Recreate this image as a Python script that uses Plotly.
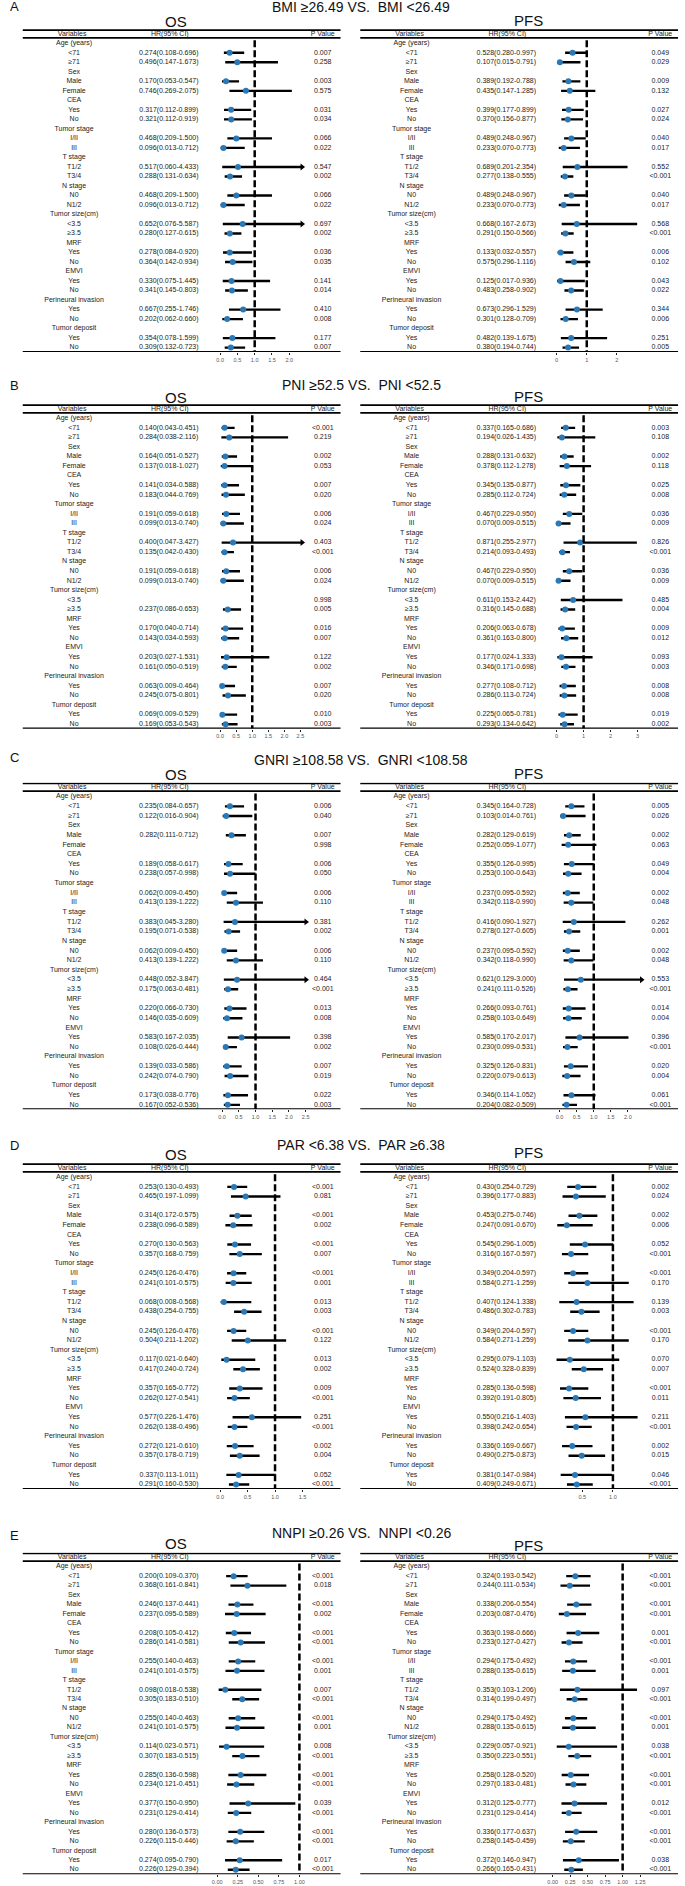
import plotly.graph_objects as go

W, H = 685, 1886
FONT = "Liberation Sans, Arial, sans-serif"
BLUE = "#2a78b5"

# ---- row labels -------------------------------------------------------------
CATEGORIES = ["Age (years)", "Sex", "CEA", "Tumor stage", "T stage", "N stage",
              "Tumor size(cm)", "MRF", "EMVI", "Perineural invasion", "Tumor deposit"]
SUBGROUPS = [["<71", "≥71"], ["Male", "Female"], ["Yes", "No"], ["I/II", "III"],
             ["T1/2", "T3/4"], ["N0", "N1/2"], ["<3.5", "≥3.5"], ["Yes", "No"],
             ["Yes", "No"], ["Yes", "No"], ["Yes", "No"]]

# ---- A: BMI -----------------------------------------------------------------
A_TITLE = "BMI ≥26.49 VS.\u00a0 BMI <26.49"
A_OS_HR = [0.274, 0.496, 0.170, 0.746, 0.317, 0.321, 0.468, 0.096, 0.517, 0.288, 0.468,
           0.096, 0.652, 0.280, 0.278, 0.364, 0.330, 0.341, 0.667, 0.202, 0.354, 0.309]
A_OS_LO = [0.108, 0.147, 0.053, 0.269, 0.112, 0.112, 0.209, 0.013, 0.060, 0.131, 0.209,
           0.013, 0.076, 0.127, 0.084, 0.142, 0.075, 0.145, 0.255, 0.062, 0.078, 0.132]
A_OS_HI = [0.696, 1.673, 0.547, 2.075, 0.899, 0.919, 1.500, 0.712, 4.433, 0.634, 1.500,
           0.712, 5.587, 0.615, 0.920, 0.934, 1.445, 0.803, 1.746, 0.660, 1.599, 0.723]
A_OS_P = ["0.007", "0.258", "0.003", "0.575", "0.031", "0.034", "0.066", "0.022", "0.547", "0.002", "0.066",
          "0.022", "0.697", "0.002", "0.036", "0.035", "0.141", "0.014", "0.410", "0.008", "0.177", "0.007"]
A_PFS_HR = [0.528, 0.107, 0.389, 0.435, 0.399, 0.370, 0.489, 0.233, 0.689, 0.277, 0.489,
            0.233, 0.668, 0.291, 0.133, 0.575, 0.125, 0.483, 0.673, 0.301, 0.482, 0.380]
A_PFS_LO = [0.280, 0.015, 0.192, 0.147, 0.177, 0.156, 0.248, 0.070, 0.201, 0.138, 0.248,
            0.070, 0.167, 0.150, 0.032, 0.296, 0.017, 0.258, 0.296, 0.128, 0.139, 0.194]
A_PFS_HI = [0.997, 0.791, 0.788, 1.285, 0.899, 0.877, 0.967, 0.773, 2.354, 0.555, 0.967,
            0.773, 2.673, 0.566, 0.557, 1.116, 0.936, 0.902, 1.529, 0.709, 1.675, 0.744]
A_PFS_P = ["0.049", "0.029", "0.009", "0.132", "0.027", "0.024", "0.040", "0.017", "0.552", "<0.001", "0.040",
           "0.017", "0.568", "<0.001", "0.006", "0.102", "0.043", "0.022", "0.344", "0.006", "0.251", "0.005"]

# ---- B: PNI -----------------------------------------------------------------
B_TITLE = "PNI ≥52.5 VS.\u00a0 PNI <52.5"
B_OS_HR = [0.140, 0.284, 0.164, 0.137, 0.141, 0.183, 0.191, 0.099, 0.400, 0.135, 0.191,
           0.099, None, 0.237, 0.170, 0.143, 0.203, 0.161, 0.063, 0.245, 0.069, 0.169]
B_OS_LO = [0.043, 0.038, 0.051, 0.018, 0.034, 0.044, 0.059, 0.013, 0.047, 0.042, 0.059,
           0.013, None, 0.086, 0.040, 0.034, 0.027, 0.050, 0.009, 0.075, 0.009, 0.053]
B_OS_HI = [0.451, 2.116, 0.527, 1.027, 0.588, 0.769, 0.618, 0.740, 3.427, 0.430, 0.618,
           0.740, None, 0.653, 0.714, 0.593, 1.531, 0.519, 0.464, 0.801, 0.529, 0.543]
B_OS_P = ["<0.001", "0.219", "0.002", "0.053", "0.007", "0.020", "0.006", "0.024", "0.403", "<0.001", "0.006",
          "0.024", "0.998", "0.005", "0.016", "0.007", "0.122", "0.002", "0.007", "0.020", "0.010", "0.003"]
B_PFS_HR = [0.337, 0.194, 0.288, 0.378, 0.345, 0.285, 0.467, 0.070, 0.871, 0.214, 0.467,
            0.070, 0.611, 0.316, 0.206, 0.361, 0.177, 0.346, 0.277, 0.286, 0.225, 0.293]
B_PFS_LO = [0.165, 0.026, 0.131, 0.112, 0.135, 0.112, 0.229, 0.009, 0.255, 0.093, 0.229,
            0.009, 0.153, 0.145, 0.063, 0.163, 0.024, 0.171, 0.108, 0.113, 0.065, 0.134]
B_PFS_HI = [0.686, 1.435, 0.632, 1.278, 0.877, 0.724, 0.950, 0.515, 2.977, 0.493, 0.950,
            0.515, 2.442, 0.688, 0.678, 0.800, 1.333, 0.698, 0.712, 0.724, 0.781, 0.642]
B_PFS_P = ["0.003", "0.108", "0.002", "0.118", "0.025", "0.008", "0.036", "0.009", "0.826", "<0.001", "0.036",
           "0.009", "0.485", "0.004", "0.009", "0.012", "0.093", "0.003", "0.008", "0.008", "0.019", "0.002"]

# ---- C: GNRI ----------------------------------------------------------------
C_TITLE = "GNRI ≥108.58 VS.\u00a0 GNRI <108.58"
C_OS_HR = [0.235, 0.122, 0.282, None, 0.189, 0.238, 0.062, 0.413, 0.383, 0.195, 0.062,
           0.413, 0.448, 0.175, 0.220, 0.146, 0.583, 0.108, 0.139, 0.242, 0.173, 0.167]
C_OS_LO = [0.084, 0.016, 0.111, None, 0.058, 0.057, 0.009, 0.139, 0.045, 0.071, 0.009,
           0.139, 0.052, 0.063, 0.066, 0.035, 0.167, 0.026, 0.033, 0.074, 0.038, 0.052]
C_OS_HI = [0.657, 0.904, 0.712, None, 0.617, 0.998, 0.450, 1.222, 3.280, 0.538, 0.450,
           1.222, 3.847, 0.481, 0.730, 0.609, 2.035, 0.444, 0.586, 0.790, 0.776, 0.536]
C_OS_P = ["0.006", "0.040", "0.007", "0.998", "0.006", "0.050", "0.006", "0.110", "0.381", "0.002", "0.006",
          "0.110", "0.464", "<0.001", "0.013", "0.008", "0.398", "0.002", "0.007", "0.019", "0.022", "0.003"]
C_PFS_HR = [0.345, 0.103, 0.282, 0.252, 0.355, 0.253, 0.237, 0.342, 0.416, 0.278, 0.237,
            0.342, 0.621, 0.241, 0.266, 0.258, 0.585, 0.230, 0.325, 0.220, 0.346, 0.204]
C_PFS_LO = [0.164, 0.014, 0.129, 0.059, 0.126, 0.100, 0.095, 0.118, 0.090, 0.127, 0.095,
            0.118, 0.129, 0.111, 0.093, 0.103, 0.170, 0.099, 0.126, 0.079, 0.114, 0.082]
C_PFS_HI = [0.728, 0.761, 0.619, 1.077, 0.995, 0.643, 0.592, 0.990, 1.927, 0.605, 0.592,
            0.990, 3.000, 0.526, 0.761, 0.649, 2.017, 0.531, 0.831, 0.613, 1.052, 0.509]
C_PFS_P = ["0.005", "0.026", "0.002", "0.063", "0.049", "0.004", "0.002", "0.048", "0.262", "0.001", "0.002",
           "0.048", "0.553", "<0.001", "0.014", "0.004", "0.396", "<0.001", "0.020", "0.004", "0.061", "<0.001"]

# ---- D: PAR -----------------------------------------------------------------
D_TITLE = "PAR <6.38 VS.\u00a0 PAR ≥6.38"
D_OS_HR = [0.253, 0.465, 0.314, 0.238, 0.270, 0.357, 0.245, 0.241, 0.068, 0.438, 0.245,
           0.504, 0.117, 0.417, 0.357, 0.262, 0.577, 0.262, 0.272, 0.357, 0.337, 0.291]
D_OS_LO = [0.130, 0.197, 0.172, 0.096, 0.130, 0.168, 0.126, 0.101, 0.008, 0.254, 0.126,
           0.211, 0.021, 0.240, 0.165, 0.127, 0.226, 0.138, 0.121, 0.178, 0.113, 0.160]
D_OS_HI = [0.493, 1.099, 0.575, 0.589, 0.563, 0.759, 0.476, 0.575, 0.568, 0.755, 0.476,
           1.202, 0.640, 0.724, 0.772, 0.541, 1.476, 0.496, 0.610, 0.719, 1.011, 0.530]
D_OS_P = ["<0.001", "0.081", "<0.001", "0.002", "<0.001", "0.007", "<0.001", "0.001", "0.013", "0.003", "<0.001",
          "0.122", "0.013", "0.002", "0.009", "<0.001", "0.251", "<0.001", "0.002", "0.004", "0.052", "<0.001"]
D_PFS_HR = [0.430, 0.396, 0.453, 0.247, 0.545, 0.316, 0.349, 0.584, 0.407, 0.486, 0.349,
            0.584, 0.295, 0.524, 0.285, 0.392, 0.550, 0.398, 0.336, 0.490, 0.381, 0.409]
D_PFS_LO = [0.254, 0.177, 0.275, 0.091, 0.296, 0.167, 0.204, 0.271, 0.124, 0.302, 0.204,
            0.271, 0.079, 0.328, 0.136, 0.191, 0.216, 0.242, 0.169, 0.275, 0.147, 0.249]
D_PFS_HI = [0.729, 0.883, 0.746, 0.670, 1.005, 0.597, 0.597, 1.259, 1.338, 0.783, 0.597,
            1.259, 1.103, 0.839, 0.598, 0.805, 1.403, 0.654, 0.667, 0.873, 0.984, 0.671]
D_PFS_P = ["0.002", "0.024", "0.002", "0.006", "0.052", "<0.001", "<0.001", "0.170", "0.139", "0.003", "<0.001",
           "0.170", "0.070", "0.007", "<0.001", "0.011", "0.211", "<0.001", "0.002", "0.015", "0.046", "<0.001"]

# ---- E: NNPI ----------------------------------------------------------------
E_TITLE = "NNPI ≥0.26 VS.\u00a0 NNPI <0.26"
E_OS_HR = [0.200, 0.368, 0.246, 0.237, 0.208, 0.286, 0.255, 0.241, 0.098, 0.305, 0.255,
           0.241, 0.114, 0.307, 0.285, 0.234, 0.377, 0.231, 0.280, 0.226, 0.274, 0.226]
E_OS_LO = [0.109, 0.161, 0.137, 0.095, 0.105, 0.141, 0.140, 0.101, 0.018, 0.183, 0.140,
           0.101, 0.023, 0.183, 0.136, 0.121, 0.150, 0.129, 0.136, 0.115, 0.095, 0.129]
E_OS_HI = [0.370, 0.841, 0.441, 0.589, 0.412, 0.581, 0.463, 0.575, 0.538, 0.510, 0.463,
           0.575, 0.571, 0.515, 0.598, 0.451, 0.950, 0.414, 0.573, 0.446, 0.790, 0.394]
E_OS_P = ["<0.001", "0.018", "<0.001", "0.002", "<0.001", "<0.001", "<0.001", "0.001", "0.007", "<0.001", "<0.001",
          "0.001", "0.008", "<0.001", "<0.001", "<0.001", "0.039", "<0.001", "<0.001", "<0.001", "0.017", "<0.001"]
E_PFS_HR = [0.324, 0.244, 0.338, 0.203, 0.363, 0.233, 0.294, 0.288, 0.353, 0.314, 0.294,
            0.288, 0.229, 0.350, 0.258, 0.297, 0.312, 0.231, 0.336, 0.258, 0.372, 0.266]
E_PFS_LO = [0.193, 0.111, 0.206, 0.087, 0.198, 0.127, 0.175, 0.135, 0.103, 0.199, 0.175,
            0.135, 0.057, 0.223, 0.128, 0.183, 0.125, 0.129, 0.177, 0.145, 0.146, 0.165]
E_PFS_HI = [0.542, 0.534, 0.554, 0.476, 0.666, 0.427, 0.492, 0.615, 1.206, 0.497, 0.492,
            0.615, 0.921, 0.551, 0.520, 0.481, 0.777, 0.414, 0.637, 0.459, 0.947, 0.431]
E_PFS_P = ["<0.001", "<0.001", "<0.001", "<0.001", "0.001", "<0.001", "<0.001", "0.001", "0.097", "<0.001", "<0.001",
           "0.001", "0.038", "<0.001", "<0.001", "<0.001", "0.012", "<0.001", "<0.001", "<0.001", "0.038", "<0.001"]

# ---- axis ticks -------------------------------------------------------------
TICKS_HALF_20 = [0, 0.5, 1.0, 1.5, 2.0]
TICKS_HALF_25 = [0, 0.5, 1.0, 1.5, 2.0, 2.5]
TICKS_INT_2 = [0, 1, 2]
TICKS_INT_3 = [0, 1, 2, 3]
TICKS_HALF_15 = [0, 0.5, 1.0, 1.5]
TICKS_D_PFS = [0.5, 1.0]
TICKS_Q_100 = [0, 0.25, 0.5, 0.75, 1.0]
TICKS_Q_125 = [0, 0.25, 0.5, 0.75, 1.0, 1.25]

# panel letter, title, per panel: (row0 px, row step px, letter y, title y, OS y, PFS y)
PANELS = [
    ("A", A_TITLE, 43.3, 9.51, 7, 7, 22, 21),
    ("B", B_TITLE, 418.3, 9.56, 385, 385, 397, 396),
    ("C", C_TITLE, 796.7, 9.63, 757, 760, 775, 773),
    ("D", D_TITLE, 1177.3, 9.60, 1145, 1145, 1154, 1152),
    ("E", E_TITLE, 1566.7, 9.47, 1535, 1533, 1543, 1545),
]

# blocks: (panel idx, side, hr, lo, hi, p, forest px domain, x range, ticks, tick format)
BLOCKS = [
    (0, 0, A_OS_HR, A_OS_LO, A_OS_HI, A_OS_P, (218, 301), (0, 2.37), TICKS_HALF_20, "{:.1f}"),
    (0, 1, A_PFS_HR, A_PFS_LO, A_PFS_HI, A_PFS_P, (559, 642), (0, 2.72), TICKS_INT_2, "{:.0f}"),
    (1, 0, B_OS_HR, B_OS_LO, B_OS_HI, B_OS_P, (218, 301), (0, 2.55), TICKS_HALF_25, "{:.1f}"),
    (1, 1, B_PFS_HR, B_PFS_LO, B_PFS_HI, B_PFS_P, (559, 642), (0, 3.04), TICKS_INT_3, "{:.0f}"),
    (2, 0, C_OS_HR, C_OS_LO, C_OS_HI, C_OS_P, (220, 305), (0, 2.51), TICKS_HALF_25, "{:.1f}"),
    (2, 1, C_PFS_HR, C_PFS_LO, C_PFS_HI, C_PFS_P, (562, 645), (0, 2.4), TICKS_HALF_20, "{:.1f}"),
    (3, 0, D_OS_HR, D_OS_LO, D_OS_HI, D_OS_P, (218, 302), (0, 1.51), TICKS_HALF_15, "{:.1f}"),
    (3, 1, D_PFS_HR, D_PFS_LO, D_PFS_HI, D_PFS_P, (558, 643), (0.065, 1.435), TICKS_D_PFS, "{:.1f}"),
    (4, 0, E_OS_HR, E_OS_LO, E_OS_HI, E_OS_P, (215, 300), (0, 1.02), TICKS_Q_100, "{:.2f}"),
    (4, 1, E_PFS_HR, E_PFS_LO, E_PFS_HI, E_PFS_P, (555, 645), (0, 1.27), TICKS_Q_125, "{:.2f}"),
]


def esc(s):
    return s.replace("<", "&lt;")


def label(x_px, y_px, text, size):
    return dict(x=x_px / W, y=1 - y_px / H, xref="paper", yref="paper", showarrow=False,
                xanchor="center", yanchor="middle", text=text,
                font=dict(size=size, color="#111", family=FONT))


fig = go.Figure()
layout = {}
shapes = []
annotations = []

for b, (pi, side, hr, lo, hi, pv, dom, xr, ticks, tfmt) in enumerate(BLOCKS):
    letter, title, row0, s, ly, ty, osy, pfsy = PANELS[pi]
    xt, xf, yb = 2 * b + 1, 2 * b + 2, b + 1
    off = 342 * side
    top_px = row0 - 14
    bot_px = row0 + 32 * s + 4.5
    y_top, y_bot = -14 / s, 32 + 4.5 / s

    layout[f"xaxis{xt}"] = dict(domain=[off / W, (off + 342) / W], range=[0, 342],
                                visible=False, anchor=f"y{yb}")
    layout[f"xaxis{xf}"] = dict(domain=[dom[0] / W, dom[1] / W], range=list(xr), anchor=f"y{yb}",
                                tickvals=ticks, ticktext=[tfmt.format(t) for t in ticks],
                                ticks="outside", ticklen=2, tickwidth=1, tickcolor="#222",
                                showgrid=False, zeroline=False, showline=False,
                                tickfont=dict(size=5.5, color="#555", family=FONT))
    layout[f"yaxis{yb}"] = dict(domain=[1 - bot_px / H, 1 - top_px / H], range=[y_bot, y_top],
                                visible=False, anchor=f"x{xt}")

    # table text
    xs, ys, ts = [], [], []
    for txt, x in (("Variables", 68), ("HR(95% CI)", 167), ("P Value", 322)):
        xs.append(x); ys.append(-9 / s); ts.append(txt)
    rows_hr, rows_y = [], []
    ci_x, ci_y, arr_x, arr_y = [], [], [], []
    for g, cat in enumerate(CATEGORIES):
        xs.append(70); ys.append(3 * g); ts.append(esc(cat))
        for j in range(2):
            r = 3 * g + 1 + j
            k = 2 * g + j
            xs.append(70); ys.append(r); ts.append(esc(SUBGROUPS[g][j]))
            if hr[k] is not None:
                xs.append(166); ys.append(r)
                ts.append(f"{hr[k]:.3f}({lo[k]:.3f}-{hi[k]:.3f})")
                rows_hr.append(hr[k]); rows_y.append(r)
                x1 = min(hi[k], xr[1])
                ci_x += [max(lo[k], xr[0]), x1, None]
                ci_y += [r, r, None]
                if hi[k] > xr[1]:
                    arr_x.append(x1); arr_y.append(r)
            xs.append(322); ys.append(r); ts.append(esc(pv[k]))

    fig.add_trace(go.Scatter(x=xs, y=ys, text=ts, mode="text", xaxis=f"x{xt}", yaxis=f"y{yb}",
                             textfont=dict(size=7, color="#222", family=FONT),
                             textposition="middle center", cliponaxis=False,
                             hoverinfo="skip", showlegend=False))
    fig.add_trace(go.Scatter(x=ci_x, y=ci_y, mode="lines", xaxis=f"x{xf}", yaxis=f"y{yb}",
                             line=dict(color="black", width=2.4), hoverinfo="skip",
                             showlegend=False, cliponaxis=False))
    if arr_x:
        fig.add_trace(go.Scatter(x=arr_x, y=arr_y, mode="markers", xaxis=f"x{xf}", yaxis=f"y{yb}",
                                 marker=dict(symbol="triangle-right", size=6, color="black"),
                                 hoverinfo="skip", showlegend=False, cliponaxis=False))
    fig.add_trace(go.Scatter(x=rows_hr, y=rows_y, mode="markers", xaxis=f"x{xf}", yaxis=f"y{yb}",
                             marker=dict(size=6, color=BLUE), showlegend=False, cliponaxis=False,
                             hovertemplate="HR %{x}<extra></extra>"))

    # rules
    for yy in (-13.3 / s, -5.5 / s, 32 + 4.3 / s):
        shapes.append(dict(type="line", xref=f"x{xt}", yref=f"y{yb}", x0=18, x1=340,
                           y0=yy, y1=yy, line=dict(color="black", width=1.8)))
    # reference line at HR = 1
    shapes.append(dict(type="line", xref=f"x{xf}", yref=f"y{yb}", x0=1, x1=1,
                       y0=-5.5 / s + 0.25, y1=32 + 4.3 / s,
                       line=dict(color="black", width=2.5, dash="7px,3px")))

    if side == 0:
        annotations.append(label(173, osy, "OS", 15))
        annotations.append(label(10, ly, letter, 13))
        annotations.append(label(361, ty, esc(title), 14))
    else:
        annotations.append(label(530, pfsy, "PFS", 15))

fig.update_layout(
    width=W, height=H,
    margin=dict(l=0, r=0, t=0, b=0),
    paper_bgcolor="white",
    plot_bgcolor="rgba(0,0,0,0)",
    shapes=shapes,
    annotations=annotations,
    **layout,
)

# drop the default page margin so the 685x1886 figure fits the window exactly
fig.write_html("out.html", config={"displayModeBar": False},
               post_script="document.body.style.margin='0';document.body.style.overflow='hidden';")
